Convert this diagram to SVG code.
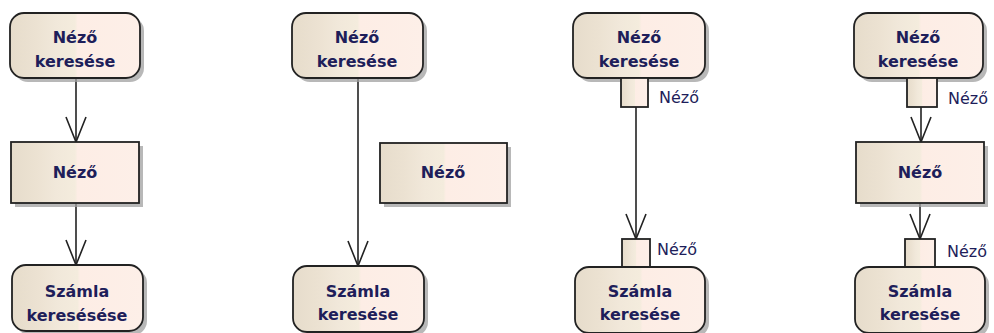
<svg xmlns="http://www.w3.org/2000/svg" width="994" height="333" viewBox="0 0 994 333">
<style>
.sh{fill:#a0a0a0;opacity:0.75}
.bx{fill:url(#g);stroke:#222;stroke-width:1.8}
.t{font-family:"DejaVu Sans",Verdana,sans-serif;font-weight:bold;font-size:16px;fill:#1e1e5a;text-anchor:middle}
.l{font-family:"DejaVu Sans",Verdana,sans-serif;font-size:16px;fill:#1e1e5a}
.c{stroke:#222;stroke-width:1.6;fill:none}
</style>
<defs>
<linearGradient id="g" x1="0" y1="0" x2="1" y2="0">
<stop offset="0" stop-color="#e6dccb"/>
<stop offset="0.2" stop-color="#ece2d2"/>
<stop offset="0.35" stop-color="#f1e8da"/>
<stop offset="0.5" stop-color="#f4ecdd"/>
<stop offset="0.52" stop-color="#fdede5"/>
<stop offset="1" stop-color="#fdefe8"/>
</linearGradient>
<marker id="a" markerUnits="userSpaceOnUse" viewBox="-27 -12 29 24" refX="0" refY="0" markerWidth="29" markerHeight="24" orient="auto">
<path d="M-25,-10 L0,0 L-25,10" fill="none" stroke="#222" stroke-width="1.6"/>
</marker>
</defs>
<g id="connectors">
<line class="c" x1="76" y1="78" x2="76" y2="142" marker-end="url(#a)"/>
<line class="c" x1="76" y1="203" x2="76" y2="265" marker-end="url(#a)"/>
<line class="c" x1="358" y1="78" x2="358" y2="266" marker-end="url(#a)"/>
<line class="c" x1="636" y1="107" x2="636" y2="239" marker-end="url(#a)"/>
<line class="c" x1="921" y1="107" x2="921" y2="142" marker-end="url(#a)"/>
<line class="c" x1="920" y1="203" x2="920" y2="239" marker-end="url(#a)"/>
</g>
<g id="n1a"><rect class="sh" x="14" y="17" width="130" height="65" rx="14"/><rect class="bx" x="10" y="13" width="130" height="65" rx="14"/><text class="t" x="75" y="43">Néző</text><text class="t" x="75" y="67">keresése</text></g>
<g id="n1b"><rect class="sh" x="15" y="146" width="128" height="61"/><rect class="bx" x="11" y="142" width="128" height="61"/><text class="t" x="75" y="178">Néző</text></g>
<g id="n1c"><rect class="sh" x="16" y="269" width="131" height="66" rx="14"/><rect class="bx" x="12" y="265" width="131" height="66" rx="14"/><text class="t" x="77" y="297">Számla</text><text class="t" x="77" y="321">keresésése</text></g>
<g id="n2a"><rect class="sh" x="296" y="17" width="131" height="65" rx="14"/><rect class="bx" x="292" y="13" width="131" height="65" rx="14"/><text class="t" x="357" y="43">Néző</text><text class="t" x="357" y="67">keresése</text></g>
<g id="n2b"><rect class="sh" x="384" y="147" width="127" height="60"/><rect class="bx" x="380" y="143" width="127" height="60"/><text class="t" x="443" y="178">Néző</text></g>
<g id="n2c"><rect class="sh" x="297" y="270" width="131" height="66" rx="14"/><rect class="bx" x="293" y="266" width="131" height="66" rx="14"/><text class="t" x="358" y="297">Számla</text><text class="t" x="358" y="320">keresése</text></g>
<g id="n3a"><rect class="sh" x="577" y="17" width="132" height="65" rx="14"/><rect class="bx" x="573" y="13" width="132" height="65" rx="14"/><text class="t" x="639" y="43">Néző</text><text class="t" x="639" y="67">keresése</text></g>
<g id="p3a"><rect class="bx" x="621" y="78" width="27" height="29"/><text class="l" x="659" y="103">Néző</text></g>
<g id="p3b"><rect class="bx" x="622" y="239" width="28" height="28"/><text class="l" x="657" y="255">Néző</text></g>
<g id="n3c"><rect class="sh" x="579" y="271" width="130" height="66" rx="14"/><rect class="bx" x="575" y="267" width="130" height="66" rx="14"/><text class="t" x="640" y="297">Számla</text><text class="t" x="640" y="320">keresése</text></g>
<g id="n4a"><rect class="sh" x="858" y="17" width="129" height="65" rx="14"/><rect class="bx" x="854" y="13" width="129" height="65" rx="14"/><text class="t" x="918" y="43">Néző</text><text class="t" x="918" y="67">keresése</text></g>
<g id="p4a"><rect class="bx" x="907" y="78" width="30" height="29"/><text class="l" x="948" y="104">Néző</text></g>
<g id="n4b"><rect class="sh" x="860" y="146" width="128" height="61"/><rect class="bx" x="856" y="142" width="128" height="61"/><text class="t" x="920" y="178">Néző</text></g>
<g id="p4b"><rect class="bx" x="905" y="239" width="30" height="28"/><text class="l" x="947" y="257">Néző</text></g>
<g id="n4c"><rect class="sh" x="859" y="271" width="130" height="66" rx="14"/><rect class="bx" x="855" y="267" width="130" height="66" rx="14"/><text class="t" x="920" y="297">Számla</text><text class="t" x="920" y="320">keresése</text></g>
</svg>
